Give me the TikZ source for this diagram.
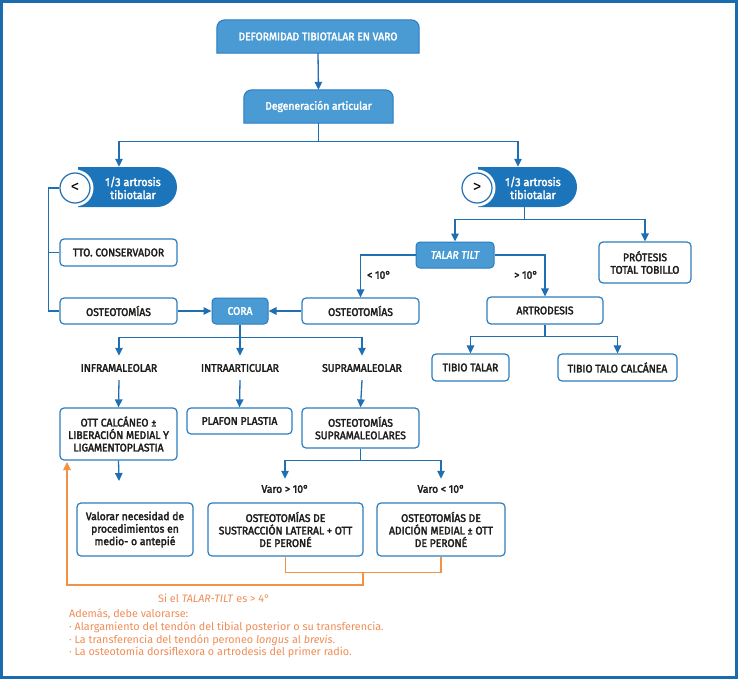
\documentclass[tikz,border=0pt]{standalone}
\usepackage{fontspec}
\setmainfont{Fira Sans}
\newfontfamily\boxfont{Fira Sans}[FakeStretch=0.94,FakeBold=2.6]
\newfontfamily\notefont{Fira Sans}
\usetikzlibrary{arrows.meta,backgrounds,shapes.misc}
\definecolor{frame}{HTML}{1B6BAF}
\definecolor{ln}{HTML}{1F6FB2}
\definecolor{lb}{HTML}{4A9BD3}
\definecolor{fb}{HTML}{2A7BBE}
\definecolor{pill}{HTML}{1C75BA}
\definecolor{bb}{HTML}{2C7DC0}
\definecolor{txt}{HTML}{1D1D1B}
\definecolor{orl}{HTML}{F39145}
\definecolor{ort}{HTML}{F08C55}
\tikzset{
  base/.style={inner sep=0pt, align=center, font=\boxfont\fontsize{11}{12.5}\selectfont, text=txt},
  wbox/.style={base, draw=bb, line width=1.2pt, fill=white, rounded corners=4pt},
  fbox/.style={base, draw=fb, line width=1pt, fill=lb, text=white, rounded corners=4pt},
  topbox/.style={base, text=white},
  lbl/.style={base},
  conn/.style={line width=1.3pt, draw=ln},
  arr/.style={conn, -{Triangle[width=7.5pt,length=8pt]}},
  oconn/.style={line width=1.3pt, draw=orl},
  oarr/.style={oconn, -{Triangle[width=7.5pt,length=8pt]}},
  pillshape/.style={rounded rectangle, rounded rectangle left arc=none, fill=pill, minimum width=99pt, minimum height=40pt, inner sep=0pt},
  halo/.style={circle, fill=white, minimum size=37pt, inner sep=0pt},
  circ/.style={circle, draw=ln, line width=1.2pt, fill=white, minimum size=30pt, inner sep=0pt, font=\fontsize{17}{17}\selectfont, text=black},
  pilltext/.style={base, text=white, font=\boxfont\fontsize{11.5}{13}\selectfont},
  notes/.style={base, text=ort, font=\notefont\fontsize{10.8}{12.7}\selectfont},
}
\begin{document}
\begin{tikzpicture}[x=1pt,y=-1pt]
\useasboundingbox (0,0) rectangle (739,680);
\draw[frame, line width=3pt] (1.5,1.5) rectangle (736.5,677.5);

% top boxes
\node[topbox, minimum width=202pt, minimum height=33pt] (deform) at (318,36.5) {DEFORMIDAD TIBIOTALAR EN VARO};
\node[topbox, minimum width=149pt, minimum height=33pt] (degen) at (318.5,106.5) {Degeneración articular};
\begin{scope}[on background layer]
\foreach \n in {deform,degen}{
\draw[fill=lb, draw=fb, line width=1pt] (\n.south west) -- ([yshift=-8pt]\n.north west) arc[start angle=180,end angle=90,radius=8pt] -- ([xshift=-8pt]\n.north east) arc[start angle=90,end angle=0,radius=8pt] -- (\n.south east) -- cycle;
}
\end{scope}

% pills
\node[pillshape] (lpill) at (127.5,187) {};
\node[halo] (lhalo) at (75,188) {};
\node[circ] (lcirc) at (75,188) {<};
\node[pilltext] (ltext) at (133,188) {1/3 artrosis\\tibiotalar};
\node[pillshape] (rpill) at (527.5,187) {};
\node[halo] (rhalo) at (477,188) {};
\node[circ] (rcirc) at (477,188) {>};
\node[pilltext] (rtext) at (533,188) {1/3 artrosis\\tibiotalar};

% left branch
\node[wbox, minimum width=117pt, minimum height=27pt] (tto) at (118.5,252.5) {TTO. CONSERVADOR};
\node[wbox, minimum width=117pt, minimum height=26pt] (osl) at (118.5,311) {OSTEOTOMÍAS};
\node[fbox, minimum width=56pt, minimum height=26pt] (cora) at (240,311) {CORA};
\node[wbox, minimum width=117pt, minimum height=26pt] (osr) at (360.5,311) {OSTEOTOMÍAS};

% right branch
\node[fbox, minimum width=78pt, minimum height=26pt, font=\boxfont\itshape\fontsize{11}{12.5}\selectfont] (talar) at (455,255) {TALAR TILT};
\node[wbox, minimum width=92pt, minimum height=41pt] (protesis) at (645,262.5) {PRÓTESIS\\TOTAL TOBILLO};
\node[wbox, minimum width=116pt, minimum height=27pt] (artro) at (545,310.5) {ARTRODESIS};
\node[wbox, minimum width=77pt, minimum height=27pt] (tibtal) at (470.5,367.5) {TIBIO TALAR};
\node[wbox, minimum width=119pt, minimum height=27pt] (tibcal) at (617.5,367.5) {TIBIO TALO CALCÁNEA};

% CORA levels
\node[lbl, minimum height=24pt] (infra) at (119,368) {INFRAMALEOLAR};
\node[lbl, minimum height=24pt] (intra) at (240,368) {INTRAARTICULAR};
\node[lbl, minimum height=24pt] (supra) at (362,368) {SUPRAMALEOLAR};
\node[wbox, minimum width=117pt, minimum height=52pt] (ott) at (118.5,434) {OTT CALCÁNEO ±\\LIBERACIÓN MEDIAL Y\\LIGAMENTOPLASTIA};
\node[wbox, minimum width=105pt, minimum height=26pt] (plafon) at (239.5,421) {PLAFON PLASTIA};
\node[wbox, minimum width=117pt, minimum height=40pt] (ossup) at (360.5,428) {OSTEOTOMÍAS\\SUPRAMALEOLARES};

\node[wbox, minimum width=116pt, minimum height=53pt] (valorar) at (135,529.5) {Valorar necesidad de\\procedimientos en\\medio- o antepié};
\node[lbl, minimum height=20pt] (varo1) at (285,489) {Varo > 10°};
\node[lbl, minimum height=20pt] (varo2) at (441,489) {Varo < 10°};
\node[wbox, minimum width=155pt, minimum height=53pt] (sust) at (285.5,529.5) {OSTEOTOMÍAS DE\\SUSTRACCIÓN LATERAL + OTT\\DE PERONÉ};
\node[wbox, minimum width=128pt, minimum height=53pt] (adic) at (441,529.5) {OSTEOTOMÍAS DE\\ADICIÓN MEDIAL ± OTT\\DE PERONÉ};

% labels on connectors
\node[lbl] (lt10) at (379,275) {< 10°};
\node[lbl] (gt10) at (526,275) {> 10°};

% connectors
\draw[arr] (deform.south) -- (degen.north);
\draw[arr] (degen.south) -- ++(0,18) -| ([xshift=-8.5pt]lpill.north);
\draw[arr] (degen.south) -- ++(0,18) -| ([xshift=-9.5pt]rpill.north);
\draw[conn] (lcirc.west) -- ++(-11,0) |- (osl.west);
\draw[conn] (tto.west) -- ++(-11,0);
\draw[arr] (osl.east) -- (cora.west);
\draw[arr] (osr.west) -- (cora.east);
\draw[arr] ([xshift=-3pt]rpill.south) -- ++(0,12) -| (talar.north);
\draw[arr] ([xshift=-3pt]rpill.south) -- ++(0,12) -| (protesis.north);
\draw[arr] (talar.west) -| (osr.north);
\draw[arr] (talar.east) -| (artro.north);
\draw[arr] (artro.south) -- ++(0,12) -| (tibtal.north);
\draw[arr] (artro.south) -- ++(0,12) -| (tibcal.north);
\draw[arr] (cora.south) -- ++(0,13) -| (infra.north);
\draw[arr] (cora.south) -- (intra.north);
\draw[arr] (cora.south) -- ++(0,13) -| (supra.north);
\draw[arr] (infra.south) -- (ott.north);
\draw[arr] (intra.south) -- (plafon.north);
\draw[arr] (supra.south) -- (ossup.north);
\coordinate (vtip) at (119,481);
\draw[arr] (ott.south) -- (vtip);
\draw[arr] (ossup.south) -- ++(0,12) -| (varo1.north);
\draw[arr] (ossup.south) -- ++(0,12) -| (varo2.north);

% orange feedback
\draw[oconn] (sust.south) -- ++(0,16) -| (adic.south);
\coordinate (om) at (363,572);
\coordinate (otip) at (67,462);
\draw[oarr] (om) -- ++(0,13) -| (otip);
\node[notes] (si) at (214,598) {Si el \textit{TALAR-TILT} es > 4°};
\node[notes, anchor=north west, align=left] (notelist) at (69,609) {Además, debe valorarse:\\
· Alargamiento del tendón del tibial posterior o su transferencia.\\
· La transferencia del tendón peroneo \textit{longus} al \textit{brevis}.\\
· La osteotomía dorsiflexora o artrodesis del primer radio.};
\end{tikzpicture}
\end{document}
